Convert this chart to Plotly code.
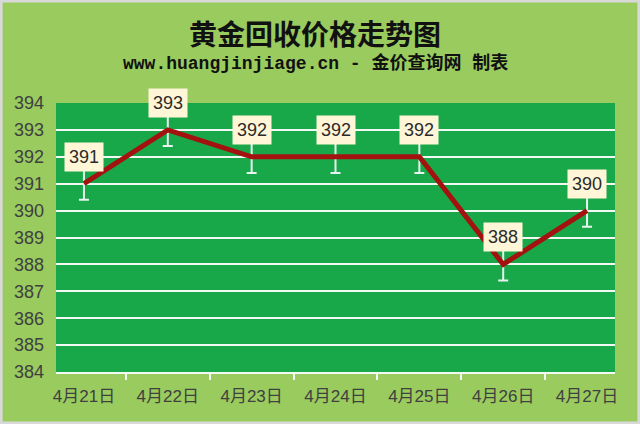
import plotly.graph_objects as go

dates = ['4月21日', '4月22日', '4月23日', '4月24日', '4月25日', '4月26日', '4月27日']
prices = [391, 393, 392, 392, 392, 388, 390]
err = [0.6] * len(prices)
y_ticks = list(range(384, 395))

W, H = 640, 424
L, R, T, B = 56, 25, 103, 52
PW, PH = W - L - R, H - T - B
title_x = (315 - L) / PW

fig = go.Figure(
    data=go.Scatter(
        x=dates,
        y=prices,
        mode='lines',
        line=dict(color='#A3120F', width=5),
        error_y=dict(type='data', array=err, visible=True,
                     color='#E6F3EE', thickness=2, width=5),
        hoverinfo='x+y',
    )
)

for d, p in zip(dates, prices):
    fig.add_annotation(
        x=d, y=p, text=str(p), showarrow=False, yshift=27,
        bgcolor='#FFF6D8', borderpad=4,
        font=dict(family='Liberation Sans, Noto Sans', size=18, color='#2A2A2A'),
    )

# title and subtitle
fig.add_annotation(
    x=title_x, y=1 + (T - 33) / PH, xref='paper', yref='paper',
    xanchor='center', yanchor='middle', showarrow=False,
    text='<b>黄金回收价格走势图</b>',
    font=dict(family='Noto Sans CJK SC', size=28, color='#111111'),
)
fig.add_annotation(
    x=title_x, y=1 + (T - 63) / PH, xref='paper', yref='paper',
    xanchor='center', yanchor='middle', showarrow=False,
    text='<b>www.huangjinjiage.cn - 金价查询网 制表</b>',
    font=dict(family='Liberation Mono, Noto Sans CJK SC', size=18, color='#111111'),
)

fig.update_layout(
    width=W, height=H,
    margin=dict(l=L, r=R, t=T, b=B),
    paper_bgcolor='#9ACB5E',
    plot_bgcolor='#18A84A',
    showlegend=False,
    font=dict(family='Noto Sans CJK SC'),
)
fig.update_xaxes(
    type='category',
    tickson='boundaries',
    ticks='outside', ticklen=6, tickcolor='#F2F8F2', tickwidth=2,
    showgrid=False,
    showline=True, linecolor='#F2F8F2', linewidth=2,
    ticklabelstandoff=8,
    tickfont=dict(family='Liberation Sans, Noto Sans CJK SC', size=17, color='#404040'),
    fixedrange=True,
)
fig.update_yaxes(
    range=[384, 394],
    tickvals=y_ticks,
    showgrid=True, gridcolor='#F2F8F2', gridwidth=2,
    zeroline=False,
    ticks='', ticklen=0,
    ticklabelstandoff=11,
    tickfont=dict(family='Liberation Sans, Noto Sans', size=18, color='#404040'),
    fixedrange=True,
)
fig.add_shape(
    type='rect', xref='paper', yref='paper',
    x0=-L / PW + 0.002, x1=1 + R / PW - 0.002, y0=-B / PH + 0.004, y1=1 + T / PH - 0.004,
    line=dict(color='#D9D9D9', width=3), layer='below',
)

fig.write_html('out.html', config={'displayModeBar': False},
               post_script="document.body.style.margin='0';")
